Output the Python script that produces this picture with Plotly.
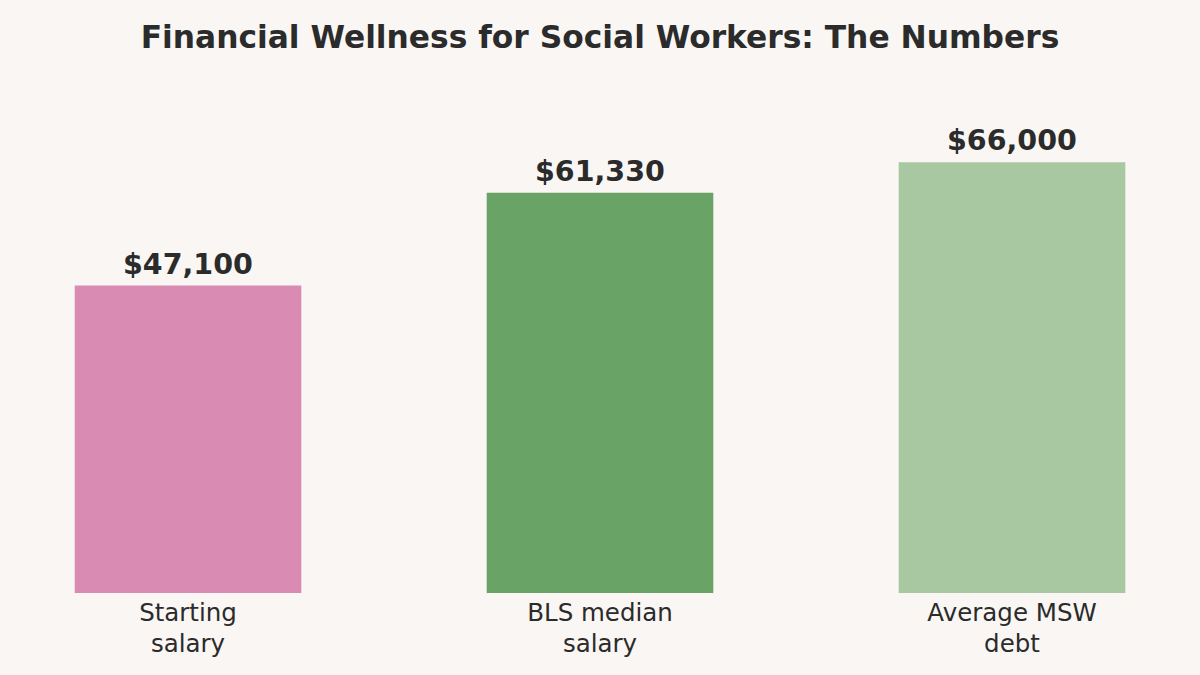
import plotly.graph_objects as go

categories = ["Starting<br>salary", "BLS median<br>salary", "Average MSW<br>debt"]
values = [47100, 61330, 66000]
labels = ["$47,100", "$61,330", "$66,000"]
colors = ["#d98bb4", "#6aa366", "#a8c8a2"]

bg = "#f9f6f3"

fig = go.Figure()

fig.add_trace(go.Bar(
    x=categories, y=values,
    marker=dict(color=colors, line=dict(width=0)), width=0.55,
    hoverinfo="skip"))

# value labels above each bar
for cat, val, lab in zip(categories, values, labels):
    fig.add_annotation(x=cat, y=val, text=f"<b>{lab}</b>", showarrow=False,
                       yanchor="bottom", yshift=3,
                       font=dict(family="DejaVu Sans", size=28.5, color="#2b2b2b"))

fig.update_layout(
    width=1200, height=675,
    paper_bgcolor=bg, plot_bgcolor=bg,
    margin=dict(l=0, r=0, t=76, b=82),
    title=dict(text="<b>Financial Wellness for Social Workers: The Numbers</b>",
               x=0.5, xanchor="center", y=0.945, yanchor="middle",
               font=dict(family="DejaVu Sans", size=31.3, color="#2b2b2b")),
    font=dict(family="DejaVu Sans", color="#2b2b2b"),
    showlegend=False,
)
fig.update_xaxes(range=[-188/412, 2 + 188/412], showgrid=False, zeroline=False,
                 showline=False, ticks="", ticklabelstandoff=2,
                 tickfont=dict(size=24.5, color="#2b2b2b"))
fig.update_yaxes(range=[0, 79200], visible=False, showgrid=False, zeroline=False)

# page with no body margin so the figure fills the window
fig.write_html("out.html", config={"displayModeBar": False},
               post_script=f"document.body.style.margin='0';document.body.style.background='{bg}';")
